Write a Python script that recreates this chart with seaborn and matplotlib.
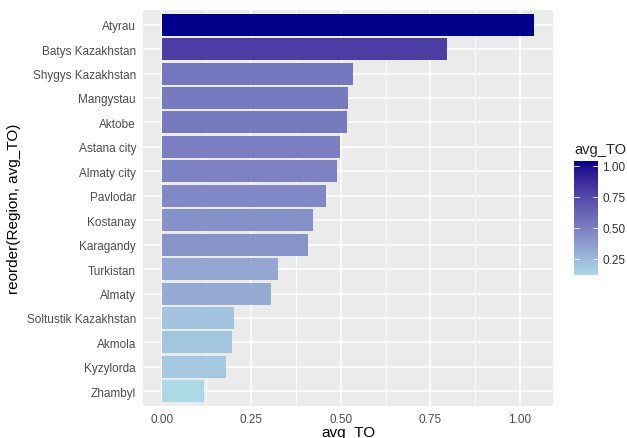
import numpy as np
import pandas as pd
import seaborn as sns
import matplotlib.pyplot as plt
import matplotlib as mpl
from matplotlib.colors import ListedColormap, Normalize, to_rgb

regions = ["Atyrau", "Batys Kazakhstan", "Shygys Kazakhstan", "Mangystau", "Aktobe",
           "Astana city", "Almaty city", "Pavlodar", "Kostanay", "Karagandy",
           "Turkistan", "Almaty", "Soltustik Kazakhstan", "Akmola", "Kyzylorda", "Zhambyl"]
avg_to = [1.040, 0.797, 0.533, 0.520, 0.518, 0.499, 0.488, 0.458, 0.423, 0.407,
          0.324, 0.306, 0.202, 0.195, 0.180, 0.118]
legend_ticks = [0.25, 0.50, 0.75, 1.00]
x_ticks = [0.0, 0.25, 0.5, 0.75, 1.0]

df = pd.DataFrame({"Region": regions, "avg_TO": avg_to})

# ggplot-like gradient: interpolate lightblue -> darkblue in Lab space
M = np.array([[0.4124, 0.3576, 0.1805], [0.2126, 0.7152, 0.0722], [0.0193, 0.1192, 0.9505]])
WHITE = np.array([0.95047, 1.0, 1.08883])


def to_lab(c):
    c = np.array(to_rgb(c))
    lin = np.where(c <= 0.04045, c / 12.92, ((c + 0.055) / 1.055) ** 2.4)
    xyz = M @ lin / WHITE
    f = np.where(xyz > 0.008856, np.cbrt(xyz), 7.787 * xyz + 16 / 116)
    return np.array([116 * f[1] - 16, 500 * (f[0] - f[1]), 200 * (f[1] - f[2])])


def from_lab(lab):
    fy = (lab[0] + 16) / 116
    f = np.array([fy + lab[1] / 500, fy, fy - lab[2] / 200])
    xyz = np.where(f ** 3 > 0.008856, f ** 3, (f - 16 / 116) / 7.787) * WHITE
    lin = np.linalg.solve(M, xyz)
    c = np.where(lin <= 0.0031308, 12.92 * lin, 1.055 * np.clip(lin, 0, None) ** (1 / 2.4) - 0.055)
    return np.clip(c, 0, 1)


lo, hi = to_lab("#ADD8E6"), to_lab("#00008B")
cmap = ListedColormap([from_lab(lo + t * (hi - lo)) for t in np.linspace(0, 1, 256)])
norm = Normalize(vmin=min(avg_to), vmax=max(avg_to))
colors = [cmap(norm(v)) for v in avg_to]

sns.set_theme(style="darkgrid", rc={"axes.facecolor": "#EBEBEB", "grid.color": "white"})
plt.rcParams['font.family'] = ['Liberation Sans', 'DejaVu Sans']

fig = plt.figure(figsize=(6.27, 4.39), dpi=100)
ax = fig.add_axes([143 / 627, 32 / 439, 410 / 627, 396 / 439])
sns.barplot(data=df, x="avg_TO", y="Region", hue="Region", palette=colors,
            legend=False, width=0.9, saturation=1, ax=ax, orient="h")
for p in ax.patches:
    p.set_edgecolor("none")

ax.set_xlim(-0.052, 1.092)
ax.set_ylim(len(regions) - 0.4, -0.6)
ax.set_xticks(x_ticks)
ax.set_xticklabels(["0.00", "0.25", "0.50", "0.75", "1.00"])
ax.set_xticks([0.125, 0.375, 0.625, 0.875], minor=True)
ax.grid(which="major", color="white", linewidth=1.1)
ax.grid(which="minor", axis="x", color="white", linewidth=0.55)
ax.tick_params(axis="both", which="major", length=3, width=0.8, color="#333333",
               labelsize=8.5, labelcolor="#4D4D4D", pad=2)
ax.tick_params(which="minor", length=0)
for s in ax.spines.values():
    s.set_visible(False)
ax.set_xlabel("avg_TO", fontsize=11, color="black", labelpad=0)
ax.set_ylabel("reorder(Region, avg_TO)", fontsize=11, color="black", labelpad=4)

# colourbar legend
cax = fig.add_axes([574 / 627, 163 / 439, 24 / 627, 114 / 439])
cb = fig.colorbar(mpl.cm.ScalarMappable(norm=norm, cmap=cmap), cax=cax)
cb.outline.set_visible(False)
cb.set_ticks(legend_ticks)
cb.set_ticklabels(["0.25", "0.50", "0.75", "1.00"])
cax.tick_params(length=0, labelsize=8.5, labelcolor="#333333", pad=3)
for t in legend_ticks:
    cax.plot([0, 0.2], [t, t], color="white", lw=0.6, transform=cax.get_yaxis_transform())
    cax.plot([0.8, 1], [t, t], color="white", lw=0.6, transform=cax.get_yaxis_transform())
cax.grid(False)
fig.text(574 / 627, 1 - 150 / 439, "avg_TO", fontsize=10.5, va="center", ha="left")

plt.savefig("out.png", dpi=100)
